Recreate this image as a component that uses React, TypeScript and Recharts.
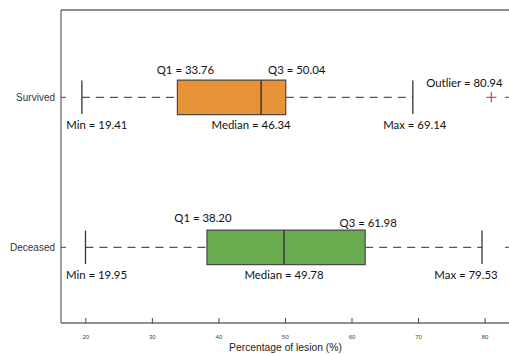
import { ComposedChart, XAxis, YAxis, Scatter, ReferenceArea, ReferenceLine } from 'recharts';

// box plot summary
const groups = ['Survived', 'Deceased'];
const groupPos = [2, 1];
const mins = [19.41, 19.95];
const q1s = [33.76, 38.2];
const medians = [46.34, 49.78];
const q3s = [50.04, 61.98];
const maxs = [69.14, 79.53];
const outlierGroups = ['Survived'];
const outlierValues = [80.94];
const xTicks = [20, 30, 40, 50, 60, 70, 80];

// styling
const boxColors = ['#E8923A', '#6AAB4F'];
const BOX_HALF = 0.115;
const CAP_HALF = 0.112;
const AXIS = '#6b6b6b';
const LINE = '#555555';
const ANNOT_FONT = 'Lato, "Noto Sans", sans-serif';
const X_DOMAIN: [number, number] = [16.27, 83.74];
const Y_DOMAIN: [number, number] = [0.4953, 2.582];

// pixel offsets of each annotation from its anchor point
const labelOffsets: Record<string, [number, number]> = {
  'Survived-Q1': [8, -28],
  'Survived-Q3': [11, -28],
  'Survived-Median': [-10, 27],
  'Survived-Min': [15, 27],
  'Survived-Max': [2, 27],
  'Survived-Outlier': [-27, -15],
  'Deceased-Q1': [-4, -30],
  'Deceased-Q3': [3, -25],
  'Deceased-Median': [0, 27],
  'Deceased-Min': [11, 27],
  'Deceased-Max': [-16, 27],
};

const posOf = (g: string) => groupPos[groups.indexOf(g)];
const fmt = (v: number) => v.toFixed(2);

const annotations = groups.flatMap((g, i) => [
  { key: `${g}-Q1`, x: q1s[i], y: groupPos[i], text: `Q1 = ${fmt(q1s[i])}` },
  { key: `${g}-Q3`, x: q3s[i], y: groupPos[i], text: `Q3 = ${fmt(q3s[i])}` },
  { key: `${g}-Median`, x: medians[i], y: groupPos[i], text: `Median = ${fmt(medians[i])}` },
  { key: `${g}-Min`, x: mins[i], y: groupPos[i], text: `Min = ${fmt(mins[i])}` },
  { key: `${g}-Max`, x: maxs[i], y: groupPos[i], text: `Max = ${fmt(maxs[i])}` },
]).concat(
  outlierGroups.map((g, i) => ({
    key: `${g}-Outlier`,
    x: outlierValues[i],
    y: posOf(g),
    text: `Outlier = ${fmt(outlierValues[i])}`,
  }))
);

const outlierData = outlierGroups.map((g, i) => ({ x: outlierValues[i], y: posOf(g) }));

const AnnotationText = (props: any) => {
  const { cx, cy, payload } = props;
  const [dx, dy] = labelOffsets[payload.key] || [0, 0];
  return (
    <text
      x={cx + dx}
      y={cy + dy}
      textAnchor="middle"
      dominantBaseline="central"
      fontFamily={ANNOT_FONT}
      fontSize={11.4}
      fill="#111"
    >
      {payload.text}
    </text>
  );
};

const PlusMarker = (props: any) => {
  const { cx, cy } = props;
  return (
    <path
      d={`M${cx - 5},${cy}H${cx + 5}M${cx},${cy - 5}V${cy + 5}`}
      stroke="#E8434A"
      strokeWidth={1.3}
      fill="none"
    />
  );
};

const noTick = () => <g />;

export default function App() {
  return (
    <div style={{ position: 'fixed', left: 0, top: 0, width: 509, height: 354, overflow: 'hidden', background: '#fff' }}>
      <ComposedChart width={515} height={354} margin={{ top: 9, right: 0, bottom: 0, left: 0 }}>
        <XAxis
          type="number"
          dataKey="x"
          domain={X_DOMAIN}
          allowDataOverflow
          ticks={xTicks}
          height={31}
          tickSize={-5}
          tickMargin={17}
          axisLine={{ stroke: AXIS, strokeWidth: 1.3 }}
          tickLine={{ stroke: '#444' }}
          tick={{ fontSize: 6, fill: '#444', fontFamily: 'Arial, "Liberation Sans", sans-serif' }}
          label={{
            value: 'Percentage of lesion (%)',
            position: 'insideBottom',
            offset: 3,
            style: { fontSize: 10.3, fill: '#222', fontFamily: 'Arial, "Liberation Sans", sans-serif' },
          }}
        />
        <XAxis
          xAxisId="top"
          orientation="top"
          type="number"
          domain={X_DOMAIN}
          allowDataOverflow
          ticks={xTicks}
          height={1}
          tickSize={-5}
          axisLine={{ stroke: AXIS, strokeWidth: 1.3 }}
          tickLine={{ stroke: '#444' }}
          tick={noTick}
        />
        <YAxis
          type="number"
          dataKey="y"
          domain={Y_DOMAIN}
          allowDataOverflow
          ticks={groupPos}
          tickFormatter={(v: number) => groups[groupPos.indexOf(v)] ?? ''}
          width={61}
          tickSize={-5}
          tickMargin={11}
          axisLine={{ stroke: AXIS, strokeWidth: 1.3 }}
          tickLine={{ stroke: '#444' }}
          tick={{ fontSize: 10, fill: '#333', fontFamily: 'Arial, "Liberation Sans", sans-serif' }}
        />
        <YAxis
          yAxisId="right"
          orientation="right"
          type="number"
          domain={Y_DOMAIN}
          allowDataOverflow
          ticks={groupPos}
          width={5}
          tickSize={-5}
          axisLine={false}
          tickLine={{ stroke: '#444' }}
          tick={noTick}
        />

        {groups.map((g, i) => (
          <ReferenceLine
            key={`wl-${g}`}
            segment={[{ x: mins[i], y: groupPos[i] }, { x: q1s[i], y: groupPos[i] }]}
            stroke={LINE}
            strokeWidth={1.3}
            strokeDasharray="8 6"
          />
        ))}
        {groups.map((g, i) => (
          <ReferenceLine
            key={`wr-${g}`}
            segment={[{ x: q3s[i], y: groupPos[i] }, { x: maxs[i], y: groupPos[i] }]}
            stroke={LINE}
            strokeWidth={1.3}
            strokeDasharray="8 6"
          />
        ))}
        {groups.map((g, i) => (
          <ReferenceLine
            key={`cmin-${g}`}
            segment={[{ x: mins[i], y: groupPos[i] - CAP_HALF }, { x: mins[i], y: groupPos[i] + CAP_HALF }]}
            stroke="#333"
            strokeWidth={1.3}
          />
        ))}
        {groups.map((g, i) => (
          <ReferenceLine
            key={`cmax-${g}`}
            segment={[{ x: maxs[i], y: groupPos[i] - CAP_HALF }, { x: maxs[i], y: groupPos[i] + CAP_HALF }]}
            stroke="#333"
            strokeWidth={1.3}
          />
        ))}
        {groups.map((g, i) => (
          <ReferenceArea
            key={`box-${g}`}
            x1={q1s[i]}
            x2={q3s[i]}
            y1={groupPos[i] - BOX_HALF}
            y2={groupPos[i] + BOX_HALF}
            fill={boxColors[i]}
            fillOpacity={1}
            stroke="#4a4a4a"
            strokeWidth={1.2}
          />
        ))}
        {groups.map((g, i) => (
          <ReferenceLine
            key={`med-${g}`}
            segment={[{ x: medians[i], y: groupPos[i] - BOX_HALF }, { x: medians[i], y: groupPos[i] + BOX_HALF }]}
            stroke="#3a3a3a"
            strokeWidth={1.5}
          />
        ))}

        <Scatter data={outlierData} shape={PlusMarker} isAnimationActive={false} />
        <Scatter data={annotations} shape={AnnotationText} isAnimationActive={false} />
      </ComposedChart>
    </div>
  );
}
